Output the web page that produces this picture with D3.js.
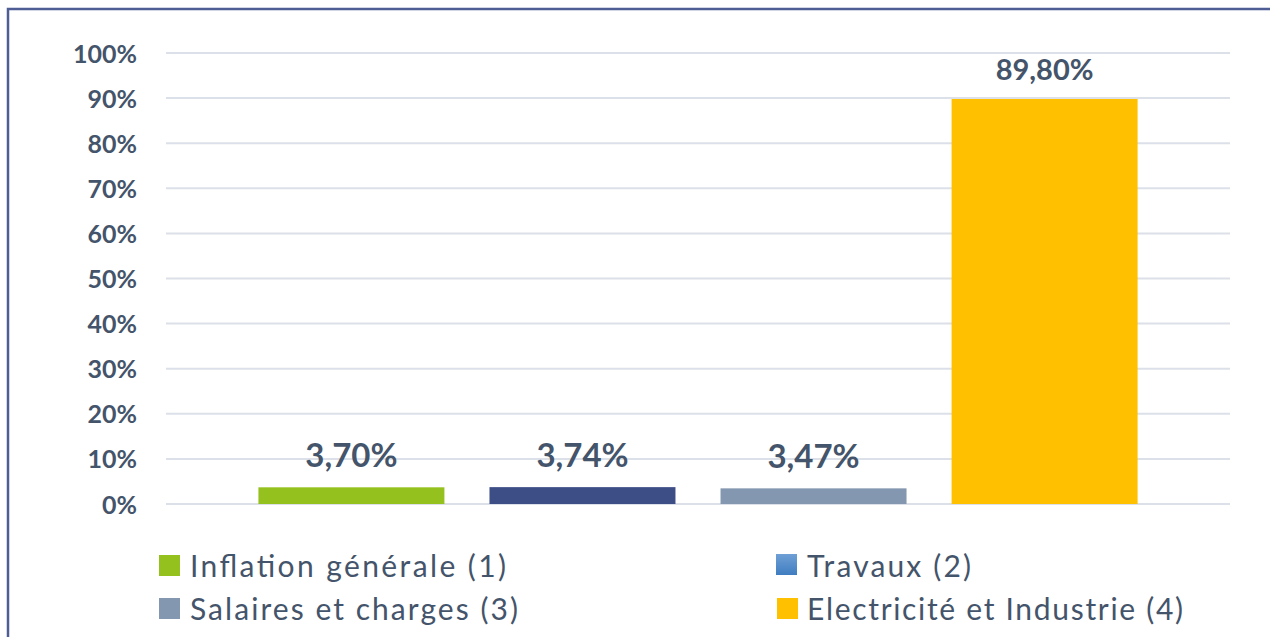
<!DOCTYPE html>
<html>
<head>
<meta charset="utf-8">
<script src="https://cdn.jsdelivr.net/npm/d3@7"></script>
<style>
  html, body { margin: 0; padding: 0; background: #fff; }
  svg { display: block; }
</style>
</head>
<body>
<svg id="chart" width="1270" height="637"></svg>
<script>
const seriesNames = ["Inflation générale (1)", "Travaux (2)", "Salaires et charges (3)", "Electricité et Industrie (4)"];
const seriesValues = [3.70, 3.74, 3.47, 89.80];
const valueLabels = ["3,70%", "3,74%", "3,47%", "89,80%"];
const barColors = ["#95C11F", "#3D4E86", "#8497B0", "#FFC000"];
const legendColors = ["#95C11F", "#4A86C5", "#8497B0", "#FFC000"];
const yTicks = [0, 10, 20, 30, 40, 50, 60, 70, 80, 90, 100];
const yTickLabels = ["0%", "10%", "20%", "30%", "40%", "50%", "60%", "70%", "80%", "90%", "100%"];

const svg = d3.select("#chart");
const textColor = "#44546A";
const font = "Lato, 'Open Sans', sans-serif";

const defs = svg.append("defs");
const grad = defs.append("linearGradient").attr("id", "travGrad").attr("x1", 0).attr("y1", 0).attr("x2", 0).attr("y2", 1);
grad.append("stop").attr("offset", "0%").attr("stop-color", "#6FA0D6");
grad.append("stop").attr("offset", "100%").attr("stop-color", "#3F7DC0");

// frame
svg.append("rect").attr("x", 8).attr("y", 9).attr("width", 1300).attr("height", 700)
  .attr("fill", "none").attr("stroke", "#4E5E94").attr("stroke-width", 2.5);

const plot = { left: 166, right: 1230, top: 53, bottom: 504 };

const y = d3.scaleLinear().domain([0, 100]).range([plot.bottom, plot.top]);
const x = d3.scaleBand().domain(seriesNames).range([plot.left, plot.right])
  .paddingInner(0.195).paddingOuter(0.4);

// gridlines
svg.append("g").selectAll("line").data(yTicks).join("line")
  .attr("x1", plot.left).attr("x2", plot.right)
  .attr("y1", d => y(d)).attr("y2", d => y(d))
  .attr("stroke", "#DCE0E8").attr("stroke-width", 2);

// y axis labels
const yAxis = d3.axisLeft(y).tickValues(yTicks).tickFormat((d, i) => yTickLabels[i]).tickSize(0).tickPadding(0);
const yg = svg.append("g").attr("transform", `translate(137,0)`).call(yAxis);
yg.select(".domain").remove();
yg.selectAll("text").attr("fill", textColor).attr("font-family", font)
  .attr("font-size", 25).attr("font-weight", "bold").attr("dy", "0.36em");

// bars
svg.append("g").selectAll("rect").data(seriesNames).join("rect")
  .attr("x", d => x(d)).attr("width", x.bandwidth())
  .attr("y", (d, i) => y(seriesValues[i]))
  .attr("height", (d, i) => y(0) - y(seriesValues[i]))
  .attr("fill", (d, i) => barColors[i]);

// value labels
svg.append("g").selectAll("text").data(seriesNames).join("text")
  .attr("x", d => x(d) + x.bandwidth() / 2)
  .attr("y", (d, i) => y(seriesValues[i]) - (i === 3 ? 19 : 20))
  .attr("text-anchor", "middle")
  .attr("fill", textColor).attr("font-family", font)
  .attr("font-size", (d, i) => i === 3 ? 29 : 33).attr("font-weight", "bold")
  .text((d, i) => valueLabels[i]);

// legend
const legendPos = [
  { sx: 159, sy: 555, tx: 190, ty: 577, w: 316 },
  { sx: 776, sy: 554, tx: 807, ty: 577, w: 164 },
  { sx: 159, sy: 598, tx: 190, ty: 620, w: 328 },
  { sx: 777, sy: 598, tx: 807, ty: 620, w: 376 }
];
const lg = svg.append("g");
seriesNames.forEach((name, i) => {
  const p = legendPos[i];
  lg.append("rect").attr("x", p.sx).attr("y", p.sy).attr("width", 21).attr("height", 21)
    .attr("fill", i === 1 ? "url(#travGrad)" : legendColors[i]);
  lg.append("text").attr("x", p.tx).attr("y", p.ty)
    .attr("fill", textColor).attr("font-family", font).attr("font-size", 30)
    .attr("textLength", p.w).attr("lengthAdjust", "spacing")
    .text(name);
});
</script>
</body>
</html>
